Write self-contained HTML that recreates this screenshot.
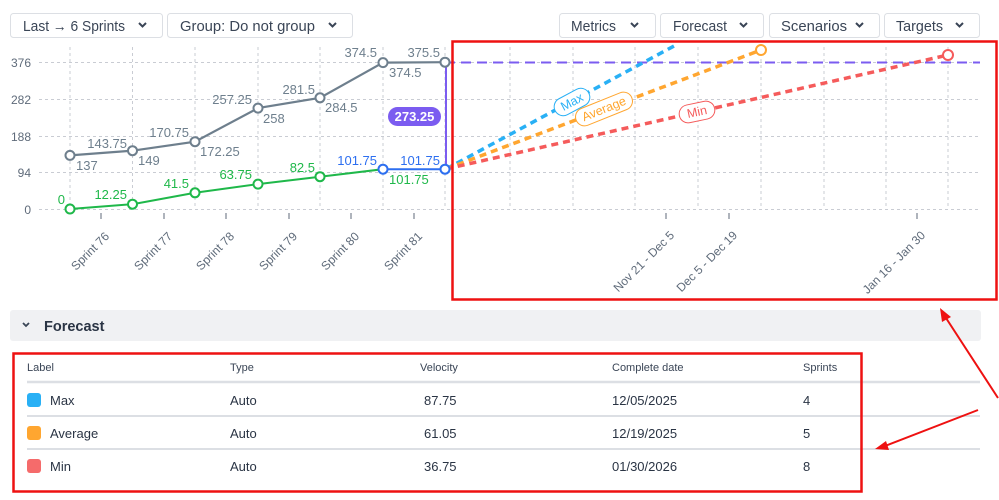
<!DOCTYPE html>
<html><head><meta charset="utf-8"><style>
body{margin:0;background:#fff;width:999px;height:495px;overflow:hidden;font-family:"Liberation Sans",sans-serif;}
</style></head><body>
<svg width="999" height="495" xmlns="http://www.w3.org/2000/svg" font-family="Liberation Sans, sans-serif">
<!-- buttons -->
<g font-size="15" fill="#3a4556">
<rect x="10.5" y="13.5" width="152" height="24" rx="3" fill="#fff" stroke="#dcdfe4"/>
<text x="23" y="31" textLength="102" lengthAdjust="spacingAndGlyphs">Last → 6 Sprints</text>
<rect x="167.5" y="13.5" width="185" height="24" rx="3" fill="#fff" stroke="#dcdfe4"/>
<text x="180" y="31" textLength="135" lengthAdjust="spacingAndGlyphs">Group: Do not group</text>
<rect x="559.5" y="13.5" width="96" height="24" rx="3" fill="#fff" stroke="#dcdfe4"/>
<text x="571" y="31" textLength="45" lengthAdjust="spacingAndGlyphs">Metrics</text>
<rect x="660.5" y="13.5" width="103" height="24" rx="3" fill="#fff" stroke="#dcdfe4"/>
<text x="673" y="31" textLength="54" lengthAdjust="spacingAndGlyphs">Forecast</text>
<rect x="769.5" y="13.5" width="110" height="24" rx="3" fill="#fff" stroke="#dcdfe4"/>
<text x="781" y="31" textLength="66" lengthAdjust="spacingAndGlyphs">Scenarios</text>
<rect x="884.5" y="13.5" width="95" height="24" rx="3" fill="#fff" stroke="#dcdfe4"/>
<text x="896" y="31" textLength="47" lengthAdjust="spacingAndGlyphs">Targets</text>
</g>
<g fill="none" stroke="#3a4556" stroke-width="2">
<path d="M139 23l3.5 3.5 3.5-3.5M329 23l3.5 3.5 3.5-3.5M631 23l3.5 3.5 3.5-3.5M740 23l3.5 3.5 3.5-3.5M856 23l3.5 3.5 3.5-3.5M956 23l3.5 3.5 3.5-3.5"/>
</g>
<!-- grid -->
<g stroke="#c9ccd3" stroke-dasharray="3,3" stroke-width="1">
<path d="M39 62.5H980M39 99.5H980M39 136.5H980M39 172.5H980M39 209.5H980"/>
<path d="M70 47V209M132.5 47V209M195 47V209M258 47V209M320 47V209M383 47V209M445 47V209M510 47V209M573 47V209M635 47V209M698 47V209M761 47V209M824 47V209M886 47V209M948 47V209"/>
</g>
<g fill="#5f6b7a" font-size="12" text-anchor="end">
<text x="31" y="67">376</text><text x="31" y="104">282</text><text x="31" y="141">188</text><text x="31" y="177">94</text><text x="31" y="214">0</text>
</g>
<g stroke="#7a8290" stroke-width="1.2"><path d="M101 213v6M164 213v6M226 213v6M289 213v6M351 213v6M414 213v6M666 213v6M729 213v6M917 213v6"/></g>
<g fill="#5f6b7a" font-size="12" text-anchor="end">
<text transform="translate(110,237) rotate(-45)">Sprint 76</text>
<text transform="translate(173,237) rotate(-45)">Sprint 77</text>
<text transform="translate(235,237) rotate(-45)">Sprint 78</text>
<text transform="translate(298,237) rotate(-45)">Sprint 79</text>
<text transform="translate(360,237) rotate(-45)">Sprint 80</text>
<text transform="translate(423,237) rotate(-45)">Sprint 81</text>
<text transform="translate(675,236) rotate(-45)">Nov 21 - Dec 5</text>
<text transform="translate(738,236) rotate(-45)">Dec 5 - Dec 19</text>
<text transform="translate(926,236) rotate(-45)">Jan 16 - Jan 30</text>
</g>
<!-- target line -->
<path d="M445 62.5H980" stroke="#7b5cf0" stroke-width="2" stroke-dasharray="10,6"/>
<path d="M446 62V169" stroke="#7b5cf0" stroke-width="2"/>
<rect x="388" y="107" width="53" height="19" rx="9.5" fill="#7b5cf0"/>
<text x="414.5" y="121" fill="#fff" font-size="13" font-weight="bold" text-anchor="middle">273.25</text>
<!-- forecasts -->
<g stroke-width="3.5" stroke-dasharray="7,5" fill="none">
<path d="M446 169L674 46" stroke="#29b0f5"/>
<path d="M446 169L761 50" stroke="#ffa630"/>
<path d="M446 169L948 55" stroke="#f55b5b"/>
</g>
<circle cx="761" cy="50" r="5" fill="#fff" stroke="#ffa630" stroke-width="2"/>
<circle cx="948" cy="55" r="5" fill="#fff" stroke="#f55b5b" stroke-width="2"/>
<g font-size="12.5" text-anchor="middle">
<g transform="translate(572,102) rotate(-28)"><rect x="-19" y="-9" width="38" height="18" rx="9" fill="#fff" stroke="#29b0f5"/><text y="4" fill="#29b0f5">Max</text></g>
<g transform="translate(604,109) rotate(-22)"><rect x="-30" y="-9" width="60" height="18" rx="9" fill="#fff" stroke="#ffa630"/><text y="4" fill="#ffa630">Average</text></g>
<g transform="translate(697,112) rotate(-12)"><rect x="-18" y="-9" width="36" height="18" rx="9" fill="#fff" stroke="#f55b5b"/><text y="4" fill="#f55b5b">Min</text></g>
</g>
<!-- series -->
<path d="M70 155.4L132.5 150.7L195 141.7L258 108.1L320 97.8L383 62.6L445 62.2" stroke="#6e7f8d" stroke-width="2.2" fill="none"/>
<path d="M70 209L132.5 204.2L195 192.8L258 184.1L320 176.7L383 169.2" stroke="#1fb84a" stroke-width="2" fill="none"/>
<path d="M383 169.2L445 169.2" stroke="#2d6ff0" stroke-width="2"/>
<g fill="#fff" stroke-width="2">
<g stroke="#6e7f8d"><circle cx="70" cy="155.4" r="4.5"/><circle cx="132.5" cy="150.7" r="4.5"/><circle cx="195" cy="141.7" r="4.5"/><circle cx="258" cy="108.1" r="4.5"/><circle cx="320" cy="97.8" r="4.5"/><circle cx="383" cy="62.6" r="4.5"/><circle cx="445" cy="62.2" r="4.5"/></g>
<g stroke="#1fb84a"><circle cx="70" cy="209" r="4.5"/><circle cx="132.5" cy="204.2" r="4.5"/><circle cx="195" cy="192.8" r="4.5"/><circle cx="258" cy="184.1" r="4.5"/><circle cx="320" cy="176.7" r="4.5"/></g>
<g stroke="#2d6ff0"><circle cx="383" cy="169.2" r="4.5"/><circle cx="445" cy="169.2" r="4.5"/></g>
</g>
<g font-size="13" fill="#6e7f8d">
<text x="76" y="170">137</text><text x="138" y="165">149</text><text x="200" y="156">172.25</text><text x="263" y="123">258</text><text x="325" y="112">284.5</text><text x="389" y="77">374.5</text>
<g text-anchor="end"><text x="127" y="148">143.75</text><text x="189" y="137">170.75</text><text x="252" y="104">257.25</text><text x="315" y="94">281.5</text><text x="377" y="57">374.5</text><text x="440" y="57">375.5</text></g>
</g>
<g font-size="13" fill="#1fb84a">
<text x="389" y="184">101.75</text>
<g text-anchor="end"><text x="65" y="204">0</text><text x="127" y="199">12.25</text><text x="189" y="188">41.5</text><text x="252" y="179">63.75</text><text x="315" y="172">82.5</text></g>
</g>
<g font-size="13" fill="#2d6ff0" text-anchor="end"><text x="377" y="165">101.75</text><text x="440" y="165">101.75</text></g>
<!-- forecast section -->
<rect x="10" y="310" width="971" height="31" rx="3" fill="#f0f1f3"/>
<path d="M23 323l3 3 3-3" stroke="#3a4556" stroke-width="1.8" fill="none"/>
<text x="44" y="331" font-size="14.5" fill="#2a3444" font-weight="600">Forecast</text>
<g font-size="11" fill="#3a4556"><text x="27" y="371">Label</text><text x="230" y="371">Type</text><text x="420" y="371">Velocity</text><text x="612" y="371">Complete date</text><text x="803" y="371">Sprints</text></g>
<g stroke="#dcdfe4"><path d="M27 382H980" stroke-width="2.5"/><path d="M27 416H980M27 449H980" stroke-width="2"/></g>
<rect x="27" y="393" width="14" height="14" rx="3" fill="#29b0f5"/>
<rect x="27" y="426" width="14" height="14" rx="3" fill="#ffa630"/>
<rect x="27" y="459" width="14" height="14" rx="3" fill="#f56b6b"/>
<g font-size="13" fill="#2a3444">
<text x="50" y="405">Max</text><text x="230" y="405">Auto</text><text x="424" y="405">87.75</text><text x="612" y="405">12/05/2025</text><text x="803" y="405">4</text>
<text x="50" y="438">Average</text><text x="230" y="438">Auto</text><text x="424" y="438">61.05</text><text x="612" y="438">12/19/2025</text><text x="803" y="438">5</text>
<text x="50" y="471">Min</text><text x="230" y="471">Auto</text><text x="424" y="471">36.75</text><text x="612" y="471">01/30/2026</text><text x="803" y="471">8</text>
</g>
<!-- annotations -->
<rect x="452.5" y="41.5" width="544" height="258" fill="none" stroke="#ee1111" stroke-width="2.5"/>
<rect x="13.5" y="353.5" width="848" height="138" fill="none" stroke="#ee1111" stroke-width="2.5"/>
<path d="M998 398L946 318M978 410L885 446" stroke="#ee1111" stroke-width="2"/>
<path d="M940 308L951 317L942 322Z" fill="#ee1111"/>
<path d="M875 449L886 441L889 450Z" fill="#ee1111"/>
</svg>
</body></html>
